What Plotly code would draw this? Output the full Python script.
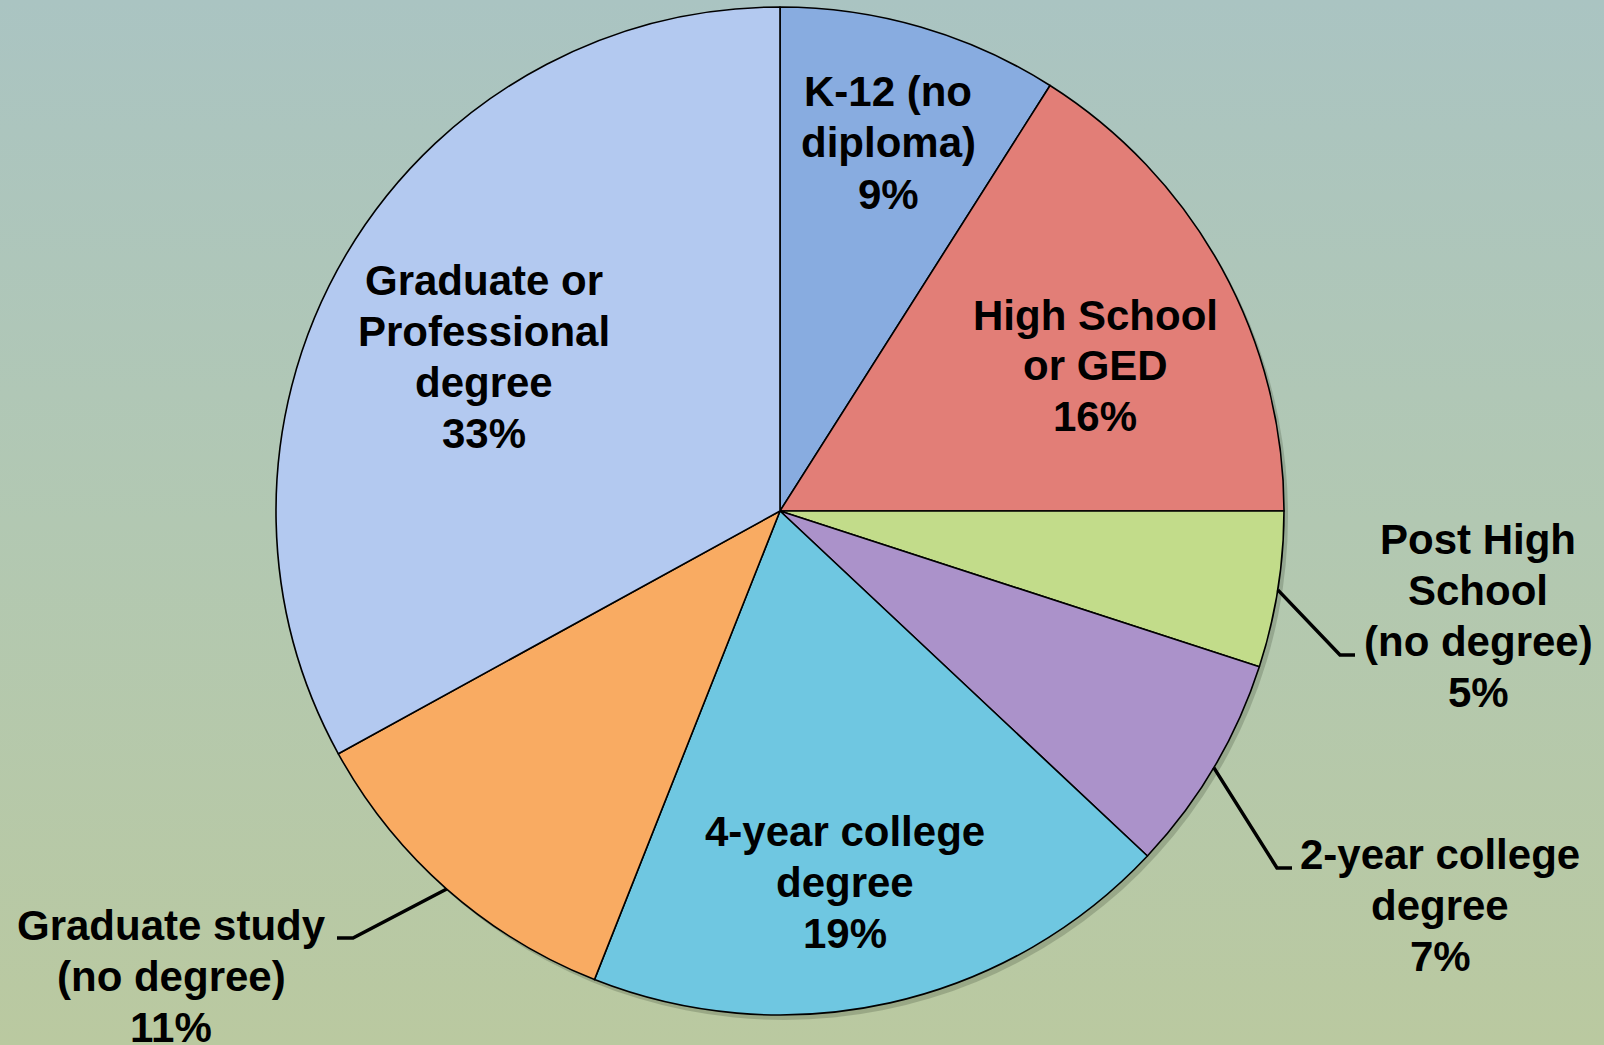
import base64
import math
import plotly.graph_objects as go

# ---- data ----
categories = [
    "K-12 (no diploma)",
    "High School or GED",
    "Post High School (no degree)",
    "2-year college degree",
    "4-year college degree",
    "Graduate study (no degree)",
    "Graduate or Professional degree",
]
label_lines = [
    ["K-12 (no", "diploma)"],
    ["High School", "or GED"],
    ["Post High", "School", "(no degree)"],
    ["2-year college", "degree"],
    ["4-year college", "degree"],
    ["Graduate study", "(no degree)"],
    ["Graduate or", "Professional", "degree"],
]
percent = [9, 16, 5, 7, 19, 11, 33]

# ---- style ----
colors = ["#88ACE0", "#E27E77", "#C2DC8A", "#AB92CA", "#6FC7E1", "#F9AB62", "#B3C9F0"]
W, H = 1604, 1045
CX, CY, R = 780, 511, 504  # pixel centre / radius of pie
LINE_H = 51

# label centres (pixels) and leader elbows for outside labels
label_pos = [(888, 143), (1095, 366), (1478, 616), (1440, 905), (845, 882), (171, 976), (484, 357)]
leader = {2: [(1340, 655), (1355, 655)], 3: [(1277, 868), (1292, 868)], 5: [(353, 938), (337, 938)]}


def px(x, y):
    return x / W, 1 - y / H


fig = go.Figure()

# soft shadow
sx0, sy0 = px(CX - R + 4, CY - R + 5)
sx1, sy1 = px(CX + R + 4, CY + R + 5)
fig.add_trace(go.Pie(values=[1], sort=False, marker=dict(colors=["rgba(60,70,50,0.25)"], line=dict(width=0)),
                     textinfo="none", hoverinfo="skip", showlegend=False,
                     domain=dict(x=[sx0, sx1], y=[sy1, sy0])))

x0, y0 = px(CX - R, CY - R)
x1, y1 = px(CX + R, CY + R)
fig.add_trace(go.Pie(
    labels=categories, values=percent, sort=False, direction="clockwise", rotation=0,
    marker=dict(colors=colors, line=dict(color="#000000", width=1.6)),
    textinfo="none", hoverinfo="label+percent", showlegend=False,
    domain=dict(x=[x0, x1], y=[y1, y0]),
))

font = dict(family="Liberation Sans, Arial, sans-serif", size=42, color="#000000")
total = sum(percent)
cum = 0
for i, (lines, p) in enumerate(zip(label_lines, percent)):
    mid = (cum + p / 2) / total * 2 * math.pi
    cum += p
    all_lines = lines + [f"{p}%"]
    n = len(all_lines)
    cx, cy = label_pos[i]
    for k, ln in enumerate(all_lines):
        lx, ly = px(cx, cy + (k - (n - 1) / 2) * LINE_H)
        fig.add_annotation(x=lx, y=ly, xref="paper", yref="paper", text=f"<b>{ln}</b>",
                           showarrow=False, xanchor="center", yanchor="middle", align="center", font=font)
    if i in leader:
        rx = CX + R * math.sin(mid)
        ry = CY - R * math.cos(mid)
        pts = [px(rx, ry)] + [px(*q) for q in leader[i]]
        path = "M " + " L ".join(f"{a},{b}" for a, b in pts)
        fig.add_shape(type="path", path=path, xref="paper", yref="paper",
                      line=dict(color="#000000", width=3.5))

svg = f"""<svg xmlns='http://www.w3.org/2000/svg' width='{W}' height='{H}' viewBox='0 0 {W} {H}' preserveAspectRatio='none'>
<defs><linearGradient id='g' x1='0' y1='0' x2='0' y2='1'>
<stop offset='0' stop-color='#AAC4C2'/><stop offset='0.5' stop-color='#B2C8B2'/><stop offset='1' stop-color='#BAC9A0'/>
</linearGradient></defs><rect width='{W}' height='{H}' fill='url(#g)'/></svg>"""
src = "data:image/svg+xml;base64," + base64.b64encode(svg.encode()).decode()
fig.add_layout_image(source=src, xref="paper", yref="paper", x=0, y=1, sizex=1, sizey=1,
                     xanchor="left", yanchor="top", sizing="stretch", layer="below")

fig.update_layout(width=W, height=H, margin=dict(l=0, r=0, t=0, b=0),
                  paper_bgcolor="#B2C8B2", plot_bgcolor="rgba(0,0,0,0)")
fig.write_html("out.html", config={"displayModeBar": False},
               post_script="document.body.style.margin='0';document.body.style.overflow='hidden';")
